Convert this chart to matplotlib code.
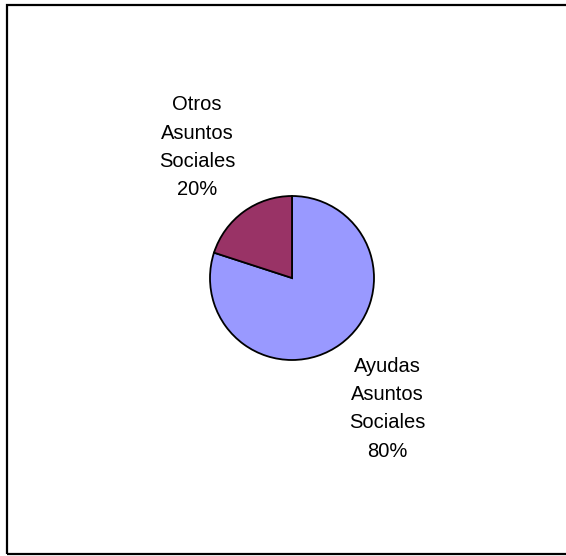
import matplotlib
matplotlib.use("Agg")
import matplotlib.pyplot as plt
from matplotlib.patches import Rectangle

categorias = ["Ayudas\nAsuntos\nSociales", "Otros\nAsuntos\nSociales"]
valores = [80, 20]
colores = ["#9999FF", "#993366"]

total = sum(valores)
etiquetas = ["%s\n%d%%" % (c, round(100.0 * v / total)) for c, v in zip(categorias, valores)]

plt.rcParams['font.family'] = ['Liberation Sans', 'DejaVu Sans']

fig = plt.figure(figsize=(5.66, 5.56), dpi=100)
ax = fig.add_axes([0, 0, 1, 1])

ax.pie(valores, labels=etiquetas, colors=colores, startangle=90, counterclock=False,
       center=(292, 278), radius=82, labeldistance=1.97,
       wedgeprops=dict(edgecolor='black', linewidth=1.3),
       textprops=dict(ha='center', va='center', fontsize=14.5, linespacing=1.62))

# pie() cambia los limites, se fijan despues
ax.set_xlim(0, 566)
ax.set_ylim(0, 556)
ax.set_aspect('equal')
ax.axis('off')

# marco del area del grafico
ax.add_patch(Rectangle((7, 2), 580, 549, fill=False, edgecolor='black',
                       linewidth=1.6, clip_on=False))

fig.savefig("out.png", dpi=100)
